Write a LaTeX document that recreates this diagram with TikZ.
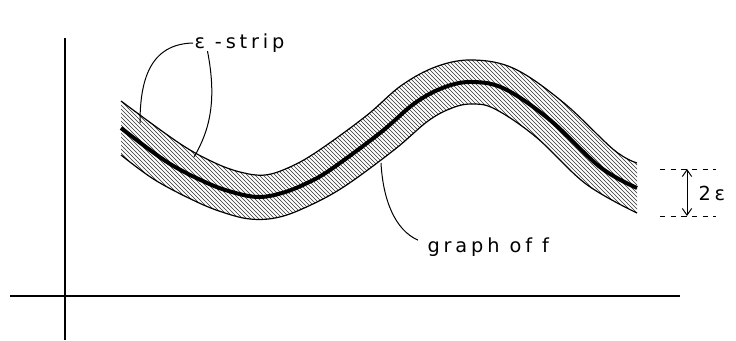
\documentclass[tikz,border=0pt]{standalone}
\usepackage{fontspec}
\usepackage{tikz}
\usetikzlibrary{patterns,arrows.meta}
\newfontfamily\lblfont[LetterSpace=20]{DejaVu Sans}
\tikzset{every picture/.style={line width=0.75pt}}

\begin{document}
\begin{tikzpicture}[x=0.75pt,y=0.75pt,yscale=-1,xscale=1,
    axis/.style={line width=1.1pt},
    edge/.style={line width=0.9pt},
    graphline/.style={line width=3pt},
    lead/.style={line width=0.75pt},
    lbl/.style={inner sep=0.75pt,font=\lblfont\fontsize{14.5}{16}\selectfont},
    guide/.style={dashed,dash pattern={on 4pt off 4pt}}]
    \useasboundingbox (0,0) rectangle (736,340);
    % axes
    \coordinate (ytop) at (65,38);
    \coordinate (ybot) at (65,340);
    \coordinate (xl) at (10,296);
    \coordinate (xr) at (680,296);
    \draw [axis] (ytop) -- (ybot);
    \draw [axis] (xl) -- (xr);
    % the strip
    \fill [pattern=north west lines, pattern color=black!80]
        plot [smooth, tension=0.6] coordinates {(121,101) (179,143) (213,162) (240,172) (265,175) (290,167) (318,151) (366,116) (402,85) (438,66) (474,60) (515,69) (564,103) (614,150) (637,163)}
        -- plot [smooth, tension=0.6] coordinates {(637,213) (586,184) (536,137) (495,109) (472,104) (452,108) (428,121) (394,150) (342,188) (302,209) (275,218) (250,219) (225,213) (197,202) (155,180) (121,155)}
        -- cycle;
    \draw [edge] plot [smooth, tension=0.6] coordinates {(121,101) (179,143) (213,162) (240,172) (265,175) (290,167) (318,151) (366,116) (402,85) (438,66) (474,60) (515,69) (564,103) (614,150) (637,163)};
    \draw [edge] plot [smooth, tension=0.6] coordinates {(121,155) (155,180) (197,202) (225,213) (250,219) (275,218) (302,209) (342,188) (394,150) (428,121) (452,108) (472,104) (495,109) (536,137) (586,184) (637,213)};
    \draw [graphline] plot [smooth, tension=0.6] coordinates {(121,128) (167,162) (205,182) (232,192) (258,197) (282,193) (305,184) (330,170) (380,133) (415,103) (445,87) (473,82) (505,89) (550,120) (600,167) (637,188)};
    % labels
    \node [lbl, anchor=west] (strip) at (193,43) {ε -strip};
    \node [lbl, anchor=west] (graphf) at (426,247) {graph of f};
    \coordinate (stripA) at (140,123);
    \coordinate (stripB) at (194,157);
    \coordinate (curveP) at (381,163);
    \draw [lead] (strip.west) .. controls (150,44) and (140,80) .. (stripA);
    \draw [lead] ([xshift=-24pt,yshift=-2pt]strip.south) .. controls (217,100) and (210,130) .. (stripB);
    \draw [lead] ([xshift=-6pt,yshift=3pt]graphf.north west) .. controls (395,230) and (383,200) .. (curveP);
    % 2 epsilon
    \coordinate (gu1) at (660,169);
    \coordinate (gu2) at (716,169);
    \coordinate (gl1) at (660,216);
    \coordinate (gl2) at (716,216);
    \coordinate (au) at (687,169);
    \coordinate (al) at (687,216);
    \draw [guide] (gu1) -- (gu2);
    \draw [guide] (gl1) -- (gl2);
    \draw [{Straight Barb[length=5pt,width=7pt]}-{Straight Barb[length=5pt,width=7pt]}] (au) -- (al);
    \node [lbl, anchor=west] (twoeps) at (697,193) {2ε};
\end{tikzpicture}
\end{document}
